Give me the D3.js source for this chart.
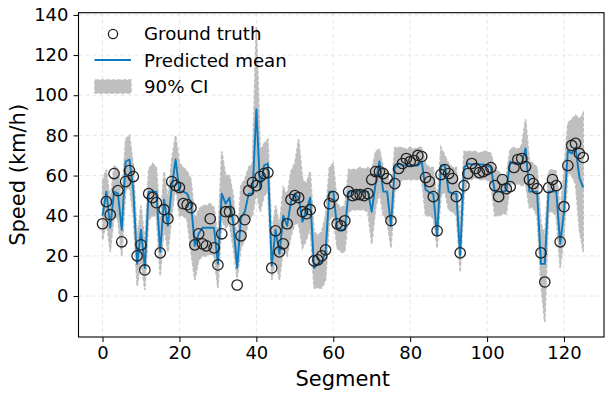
<!DOCTYPE html>
<html>
<head>
<meta charset="utf-8">
<script src="https://cdn.jsdelivr.net/npm/d3@7"></script>
<style>
body { margin: 0; background: #fff; }
text { font-family: "DejaVu Sans", sans-serif; fill: #000; }
</style>
</head>
<body>
<div id="chart"></div>
<script>
// values, one entry per segment (0..125)
let groundTruth = [36, 47, 40.5, 61, 52.5, 27, 57, 62.5, 59.5, 20,
    25.5, 13, 51, 49, 46.5, 21.5, 43, 38.5, 57, 55,
    54, 46, 45.5, 44, 25.5, 31, 26, 25, 38.5, 24,
    15.5, 31, 42, 42, 38, 5.5, 30, 38, 52.5, 56.5,
    55, 59.5, 61, 61.5, 14, 32.5, 22, 26, 36, 48,
    50, 49, 42, 41, 43, 17.5, 18, 20, 23, 46,
    49.5, 36, 35, 37.5, 52, 50, 50.5, 50.5, 50, 51,
    58, 62, 62, 61, 58.5, 37.5, 56, 63.5, 66, 68.5,
    67, 67.5, 70, 69.5, 59, 57, 49.5, 32.5, 60.5, 63,
    61, 58.5, 49.5, 21.5, 55, 61, 66, 63.5, 61.5, 62,
    63, 64, 55, 49.5, 58, 53.5, 54.5, 64, 68, 68.5,
    64.5, 58, 56, 53.5, 21.5, 7, 54, 58, 55, 27,
    44.5, 65, 75, 76, 71, 69]
let predMean = [40, 52, 34, 52, 51, 33, 67, 68, 53, 16,
    33, 14, 52, 52, 52, 22, 48, 35, 54, 68,
    52, 52, 51, 46, 25, 31, 34, 34, 34, 34,
    16, 51, 46, 49, 36, 14, 39, 42, 51, 51,
    93, 53, 65, 66, 15, 33, 21, 40, 35, 47,
    51, 49, 37, 43, 49, 14, 16, 17, 22, 52,
    52, 34, 33, 33, 52, 52, 52, 52, 52, 52,
    42, 56, 67, 52, 52, 35, 64, 66, 65, 65,
    65, 65, 65, 67, 53, 51.5, 51, 30, 65, 65,
    52, 51, 51, 20, 64, 66, 65.5, 65.5, 65.5, 65.5,
    65, 64, 52, 52, 52, 52.5, 67, 66, 66, 66,
    73.5, 52, 52, 52, 16, 16, 52, 52, 52, 26,
    42, 72.5, 71, 74, 59, 54]
let ciLower = [28, 38, 22, 40, 38, 20, 52, 55, 40, 5,
    18, 3, 38, 40, 40, 10, 35, 22, 40, 55,
    40, 40, 38, 22, 8, 18, 20, 20, 21, 20,
    4, 38, 34, 36, 24, 9, 24, 28, 38, 40,
    52, 42, 50, 52, 8, 18, 8, 24, 20, 30,
    36, 36, 24, 28, 34, 4, 4, 4, 8, 38,
    40, 24, 22, 22, 42, 43, 43, 43, 43, 42,
    26, 44, 52, 40, 38, 24, 52, 56, 58, 58,
    58, 58, 58, 58, 40, 40, 39, 24, 50, 52,
    43, 42, 40, 12, 50, 58, 58, 59, 58, 58,
    58, 56, 40, 40, 41, 41, 56, 56, 56, 55,
    56, 44, 44, 40, 6, -13, 42, 42, 40, 14,
    30, 62, 60, 56, 33, 22]
let ciUpper = [57, 63, 47, 65, 63, 47, 78, 80, 65, 28,
    45, 26, 63, 66, 64, 36, 62, 48, 68, 80,
    66, 64, 62, 58, 38, 43, 45, 45, 46, 44,
    28, 72, 60, 60, 50, 26, 55, 58, 64, 66,
    134, 72, 76, 78, 30, 45, 35, 54, 50, 62,
    66, 78, 58, 56, 62, 32, 30, 32, 40, 64,
    66, 46, 44, 45, 63, 63, 63, 64, 63, 64,
    62, 72, 73, 64, 63, 50, 74, 74, 74, 73,
    74, 73, 74, 74, 66, 64, 64, 46, 74, 70,
    66, 64, 64, 35, 72, 72, 72, 72, 71, 72,
    72, 71, 63, 62, 60, 60, 73, 74, 73, 75,
    88, 67, 66, 64, 36, 30, 62, 63, 62, 42,
    62, 86, 88, 90, 88, 91]
let xTicks = [0, 20, 40, 60, 80, 100, 120]
let yTicks = [0, 20, 40, 60, 80, 100, 120, 140]

function drawChart() {
    let width = 605,
        height = 395;
    let left = 78.5, right = 604, top = 12.7, bottom = 337;

    let svg = d3.select("#chart").append("svg")
        .attr("width", width)
        .attr("height", height)

    // same px per segment as the reference, axis cut at the right edge
    let xScale = d3.scaleLinear()
        .domain([-6.25, 130.4])
        .range([left, right])
    let yScale = d3.scaleLinear()
        .domain([-20.4, 141.1])
        .range([bottom, top])

    let idx = groundTruth.map(function(d, i) { return i; })

    // grid
    svg.append("g").selectAll("line")
        .data(xTicks)
        .enter()
        .append("line")
        .attr("x1", function(d) { return xScale(d); })
        .attr("x2", function(d) { return xScale(d); })
        .attr("y1", top)
        .attr("y2", bottom)
        .attr("stroke", "#e3e3e3")
        .attr("stroke-width", 0.9)
        .attr("stroke-dasharray", "4,3")
    svg.append("g").selectAll("line")
        .data(yTicks)
        .enter()
        .append("line")
        .attr("x1", left)
        .attr("x2", right)
        .attr("y1", function(d) { return yScale(d); })
        .attr("y2", function(d) { return yScale(d); })
        .attr("stroke", "#e3e3e3")
        .attr("stroke-width", 0.9)
        .attr("stroke-dasharray", "4,3")

    // 90% CI band
    let area = d3.area()
        .x(function(i) { return xScale(i); })
        .y0(function(i) { return yScale(ciLower[i]); })
        .y1(function(i) { return yScale(ciUpper[i]); })
    svg.append("path")
        .datum(idx)
        .attr("d", area)
        .attr("fill", "#bfbfbf")
        .attr("stroke", "#bfbfbf")
        .attr("stroke-width", 1.6)
        .attr("stroke-dasharray", "4,1.5")

    // predicted mean
    let line = d3.line()
        .x(function(i) { return xScale(i); })
        .y(function(i) { return yScale(predMean[i]); })
    svg.append("path")
        .datum(idx)
        .attr("d", line)
        .attr("fill", "none")
        .attr("stroke", "#0a7bbf")
        .attr("stroke-width", 1.9)
        .attr("stroke-linejoin", "round")

    // ground truth markers
    svg.append("g").selectAll("circle")
        .data(idx)
        .enter()
        .append("circle")
        .attr("cx", function(i) { return xScale(i); })
        .attr("cy", function(i) { return yScale(groundTruth[i]); })
        .attr("r", 5.2)
        .attr("fill", "none")
        .attr("stroke", "#222")
        .attr("stroke-width", 1.3)

    // axes
    svg.append("g")
        .attr("transform", "translate(0," + bottom + ")")
        .call(d3.axisBottom(xScale).tickValues(xTicks).tickSize(5).tickPadding(4))
    svg.append("g")
        .attr("transform", "translate(" + left + ",0)")
        .call(d3.axisLeft(yScale).tickValues(yTicks).tickSize(5).tickPadding(5))
    svg.selectAll(".domain").remove()
    svg.selectAll(".tick text")
        .attr("font-size", "18px")
        .attr("font-family", "DejaVu Sans")
    svg.selectAll(".tick line").attr("stroke", "#000").attr("stroke-width", 1)

    svg.append("rect")
        .attr("x", left)
        .attr("y", top)
        .attr("width", right - left)
        .attr("height", bottom - top)
        .attr("fill", "none")
        .attr("stroke", "#000")
        .attr("stroke-width", 1.1)

    svg.append("text")
        .attr("x", 342.7)
        .attr("y", 386)
        .attr("text-anchor", "middle")
        .attr("font-size", "21px")
        .text("Segment")
    svg.append("text")
        .attr("transform", "translate(25," + (top + bottom) / 2 + ") rotate(-90)")
        .attr("text-anchor", "middle")
        .attr("font-size", "21px")
        .text("Speed (km/h)")

    // legend
    let lg = svg.append("g")
    lg.append("circle")
        .attr("cx", 113).attr("cy", 34).attr("r", 4.6)
        .attr("fill", "none").attr("stroke", "#222").attr("stroke-width", 1.3)
    lg.append("line")
        .attr("x1", 94.5).attr("x2", 131).attr("y1", 60).attr("y2", 60)
        .attr("stroke", "#0a7bbf").attr("stroke-width", 1.9)
    lg.append("rect")
        .attr("x", 95).attr("y", 80).attr("width", 36).attr("height", 13)
        .attr("fill", "#bfbfbf").attr("stroke", "#bfbfbf")
        .attr("stroke-width", 1.6).attr("stroke-dasharray", "4,1.5")
    let labels = ["Ground truth", "Predicted mean", "90% CI"]
    lg.selectAll("text.lab")
        .data(labels)
        .enter()
        .append("text")
        .attr("class", "lab")
        .attr("x", 144)
        .attr("y", function(d, i) { return 34 + i * 26.5; })
        .attr("dy", "0.35em")
        .attr("font-size", "18.2px")
        .text(function(d) { return d; })
}

drawChart()
</script>
</body>
</html>
